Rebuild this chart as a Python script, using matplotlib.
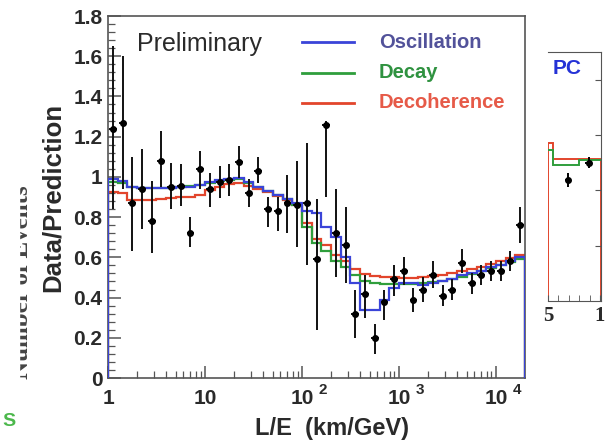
import numpy as np
import matplotlib.pyplot as plt
from matplotlib.ticker import MultipleLocator, FixedLocator, NullFormatter
from matplotlib.patches import Rectangle

plt.rcParams['font.family'] = ['Liberation Sans', 'DejaVu Sans']

# binning: 43 bins of 0.1 in log10(L/E)
log_edges = np.round(np.arange(44) * 0.1, 1)

# data / prediction per bin
ratio = [1.24, 1.27, 0.87, 0.94, 0.78, 1.08, 0.95, 0.955, 0.72, 1.04,
         0.94, 0.975, 0.985, 1.075, 0.92, 1.03, 0.84, 0.83, 0.87, 0.86,
         0.87, 0.59, 1.26, 0.72, 0.66, 0.32, 0.42, 0.20, 0.38, 0.49,
         0.53, 0.39, 0.44, 0.51, 0.41, 0.44, 0.57, 0.47, 0.51, 0.53,
         0.53, 0.58, 0.76]
err_hi = [0.41, 0.33, 0.23, 0.20, 0.20, 0.15, 0.12, 0.11, 0.08, 0.09,
          0.08, 0.08, 0.08, 0.08, 0.07, 0.07, 0.06, 0.07, 0.14, 0.22,
          0.30, 0.30, 0.02, 0.22, 0.19, 0.12, 0.09, 0.07, 0.06, 0.07,
          0.07, 0.06, 0.06, 0.07, 0.05, 0.05, 0.07, 0.05, 0.05, 0.05,
          0.05, 0.05, 0.09]
err_lo = [0.40, 0.33, 0.24, 0.20, 0.16, 0.13, 0.11, 0.10, 0.07, 0.10,
          0.09, 0.08, 0.08, 0.08, 0.07, 0.06, 0.09, 0.10, 0.15, 0.21,
          0.31, 0.35, 0.36, 0.22, 0.19, 0.12, 0.12, 0.08, 0.09, 0.08,
          0.07, 0.06, 0.06, 0.06, 0.05, 0.05, 0.05, 0.05, 0.05, 0.05,
          0.05, 0.05, 0.09]

# model expectations / null prediction
oscillation = [0.99, 0.98, 0.95, 0.945, 0.945, 0.945, 0.945, 0.95, 0.95, 0.96,
               0.975, 0.985, 0.99, 0.995, 0.975, 0.95, 0.93, 0.91, 0.89, 0.87,
               0.83, 0.82, 0.75, 0.70, 0.60, 0.47, 0.34, 0.34, 0.39, 0.45,
               0.47, 0.47, 0.46, 0.47, 0.48, 0.49, 0.51, 0.52, 0.53, 0.55,
               0.56, 0.58, 0.60]
decay = [0.975, 0.97, 0.95, 0.945, 0.945, 0.945, 0.945, 0.95, 0.955, 0.96,
         0.97, 0.98, 0.985, 0.99, 0.97, 0.95, 0.93, 0.91, 0.89, 0.86,
         0.75, 0.67, 0.63, 0.58, 0.55, 0.51, 0.48, 0.47, 0.465, 0.465,
         0.465, 0.465, 0.47, 0.475, 0.48, 0.49, 0.50, 0.515, 0.53, 0.545,
         0.56, 0.575, 0.59]
decoherence = [0.925, 0.92, 0.885, 0.885, 0.885, 0.89, 0.895, 0.90, 0.90, 0.91,
               0.935, 0.95, 0.965, 0.97, 0.955, 0.94, 0.925, 0.905, 0.885, 0.86,
               0.77, 0.69, 0.66, 0.61, 0.58, 0.54, 0.515, 0.505, 0.50, 0.50,
               0.495, 0.495, 0.50, 0.505, 0.51, 0.52, 0.53, 0.54, 0.55, 0.565,
               0.58, 0.595, 0.61]

# neighbouring (cut off) PC panel
pc_edges = [0.5, 0.55, 0.8, 1.01]
pc_decay = [1.09, 0.98, 1.02]
pc_decoh = [1.14, 1.03, 1.03]
pc_x = [0.69, 0.89]
pc_ratio = [0.875, 1.0]
pc_err = [0.05, 0.04]

c_osc, c_dec, c_coh = '#3a44d8', '#2f9e3c', '#e2452c'
txt = '#2a2a2a'

edges = 10 ** log_edges
lc = log_edges[:-1] + 0.05
centers = 10 ** lc
xerr = [centers - 10 ** (lc - 0.04), 10 ** (lc + 0.04) - centers]

fig = plt.figure(figsize=(6.12, 4.42), dpi=100)
ax = fig.add_axes([108 / 612, 64 / 442, 417 / 612, 362 / 442])
ax.set_xscale('log')
ax.set_xlim(1, 10 ** 4.3)
ax.set_ylim(0, 1.8)

ax.stairs(decoherence, edges, baseline=0, color=c_coh, lw=1.6, zorder=2)
ax.stairs(decay, edges, baseline=0, color=c_dec, lw=1.6, zorder=2)
ax.stairs(oscillation, edges, baseline=0, color=c_osc, lw=1.6, zorder=3)
ax.errorbar(centers, ratio, yerr=[err_lo, err_hi], xerr=xerr, fmt='o', ms=4,
            color='k', ecolor='#111111', elinewidth=1.4, capsize=0, zorder=4)

for s in ax.spines.values():
    s.set_color('#555555')
    s.set_linewidth(1.2)

yt = np.round(np.arange(0, 1.81, 0.2), 1)
ax.set_yticks(yt)
ax.set_yticklabels(['%g' % v for v in yt])
ax.yaxis.set_minor_locator(MultipleLocator(0.04))
ax.xaxis.set_major_locator(FixedLocator([1, 10, 100, 1000, 10000]))
minor = [m * 10 ** d for d in range(5) for m in range(2, 10) if m * 10 ** d < 10 ** 4.3]
ax.xaxis.set_minor_locator(FixedLocator(minor))
ax.xaxis.set_minor_formatter(NullFormatter())
ax.set_xticklabels(['1', '10', '10', '10', '10'])
ax.tick_params(which='both', direction='in', top=False, right=False,
               colors='#555555', labelcolor=txt, labelsize=15)
ax.tick_params(which='major', length=9, width=1.1)
ax.tick_params(which='minor', length=5, width=0.9)
ax.tick_params(axis='x', pad=8)
ax.tick_params(axis='y', pad=4)
for lab in ax.get_xticklabels() + ax.get_yticklabels():
    lab.set_fontweight('bold')
for n in (2, 3, 4):
    ax.annotate(str(n), xy=(10 ** n, 0), xycoords=('data', 'axes fraction'),
                xytext=(12, -9), textcoords='offset points', fontsize=11,
                fontweight='bold', color=txt, va='center')

ax.set_ylabel('Data/Prediction', fontsize=18.5, fontweight='bold', color=txt, labelpad=6)
fig.text(332 / 612, 14 / 442, 'L/E  (km/GeV)', fontsize=17, fontweight='bold',
         color=txt, ha='center', va='center')

ax.text(0.07, 0.923, 'Preliminary', transform=ax.transAxes, fontsize=18,
        color=txt, va='center')
legend_rows = [('Oscillation', c_osc, '#52529a', 0.928),
               ('Decay', c_dec, '#2f9240', 0.843),
               ('Decoherence', c_coh, '#e65a48', 0.760)]
for name, lcol, tcol, yy in legend_rows:
    ax.plot([0.465, 0.59], [yy, yy], transform=ax.transAxes, color=lcol, lw=2)
    ax.text(0.65, yy, name, transform=ax.transAxes, color=tcol, fontsize=14.5,
            fontweight='bold', va='center')

# cut-off PC panel on the right
ax2 = fig.add_axes([548 / 612, 141 / 442, 53 / 612, 249 / 442])
ax2.set_xlim(0.5, 1.01)
ax2.set_ylim(0, 1.8)
ax2.stairs(pc_decoh, pc_edges, baseline=0, color=c_coh, lw=1.4)
ax2.stairs(pc_decay, pc_edges, baseline=None, color=c_dec, lw=1.4)
ax2.errorbar(pc_x, pc_ratio, yerr=pc_err, xerr=0.03, fmt='o', ms=4, color='k',
             elinewidth=1.4, capsize=0)
ax2.spines['left'].set_visible(False)
for s in ('top', 'right', 'bottom'):
    ax2.spines[s].set_color('#555555')
ax2.set_xticks([0.5, 1.0])
ax2.set_xticklabels(['5', '1'], fontfamily='Liberation Serif', fontweight='bold',
                    fontsize=15)
ax2.xaxis.set_minor_locator(MultipleLocator(0.1))
ax2.set_yticks([0.4, 0.8, 1.2, 1.6])
ax2.tick_params(which='both', direction='in', left=False, right=True,
                labelleft=False, colors='#555555', labelcolor=txt, length=4)
ax2.text(0.08, 0.935, 'PC', transform=ax2.transAxes, color='#2432d6',
         fontsize=15, fontweight='bold', va='center')

# partly hidden label of the panel behind
fig.text(22 / 612, 160 / 442, 'Number of Events', rotation=90, fontsize=18,
         fontweight='bold', fontfamily='Liberation Serif', color='#444444',
         ha='center', va='center')
fig.patches.append(Rectangle((0, 0), 19 / 612, 1, transform=fig.transFigure,
                             color='white', zorder=5))
fig.text(2 / 612, 20 / 442, 'S', fontsize=14, color='#4cb84c', fontweight='bold',
         va='center', zorder=6)

fig.savefig('out.png', dpi=100)
